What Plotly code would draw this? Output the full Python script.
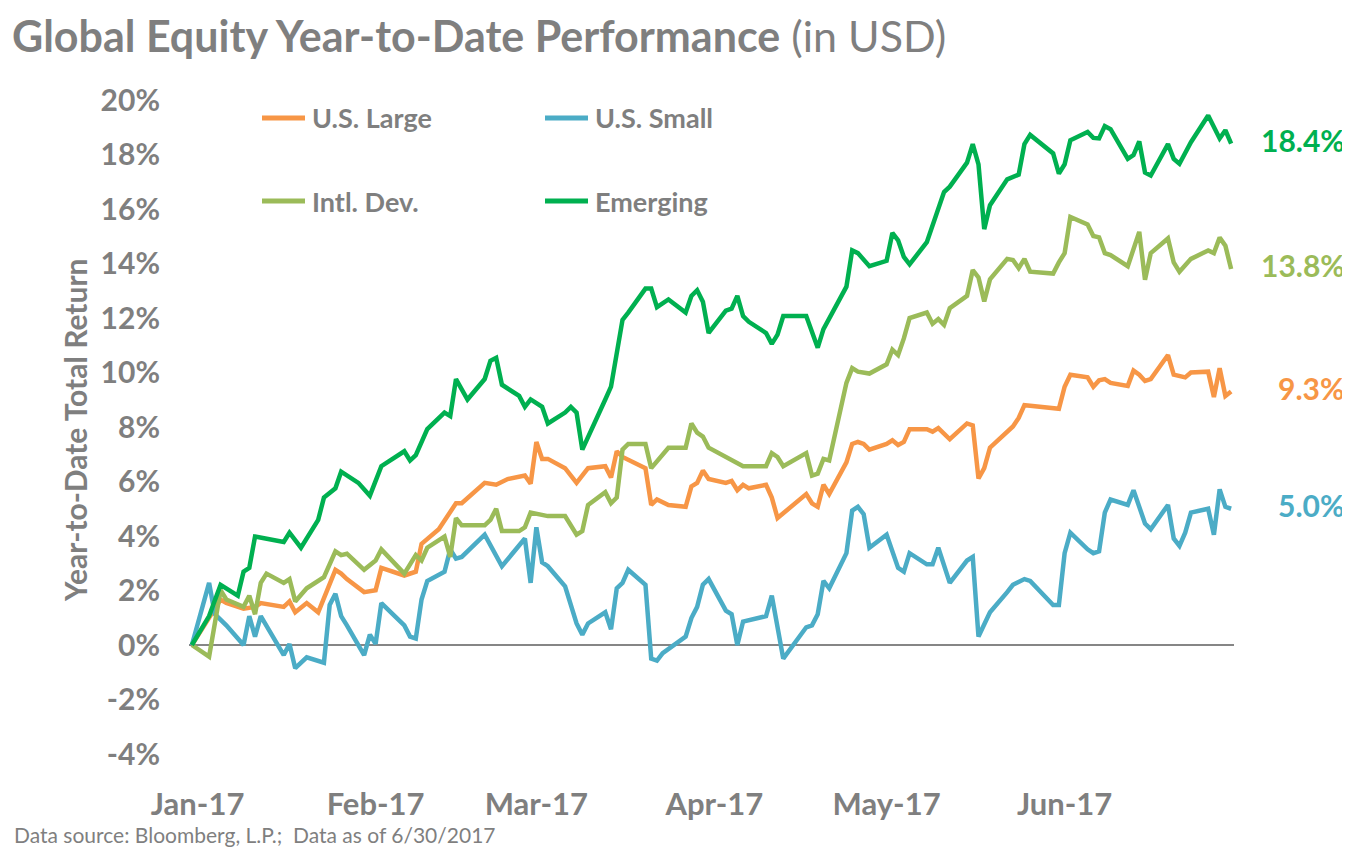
import plotly.graph_objects as go

# ---------------- data (YTD total return, %) ----------------
large_dates = ["2016-12-31","2017-01-05","2017-01-06","2017-01-09","2017-01-11","2017-01-12","2017-01-16","2017-01-17","2017-01-18","2017-01-20","2017-01-22","2017-01-25","2017-01-26","2017-01-27","2017-01-30","2017-02-01","2017-02-02","2017-02-06","2017-02-08","2017-02-09","2017-02-12","2017-02-15","2017-02-16","2017-02-20","2017-02-22","2017-02-24","2017-02-27","2017-02-28","2017-03-01","2017-03-02","2017-03-03","2017-03-06","2017-03-08","2017-03-10","2017-03-13","2017-03-14","2017-03-15","2017-03-16","2017-03-20","2017-03-21","2017-03-22","2017-03-24","2017-03-27","2017-03-28","2017-03-29","2017-03-30","2017-03-31","2017-04-03","2017-04-04","2017-04-05","2017-04-06","2017-04-07","2017-04-10","2017-04-11","2017-04-12","2017-04-17","2017-04-18","2017-04-19","2017-04-20","2017-04-21","2017-04-24","2017-04-25","2017-04-26","2017-04-27","2017-04-28","2017-05-01","2017-05-02","2017-05-03","2017-05-04","2017-05-05","2017-05-08","2017-05-09","2017-05-10","2017-05-12","2017-05-15","2017-05-16","2017-05-17","2017-05-18","2017-05-19","2017-05-23","2017-05-24","2017-05-25","2017-05-26","2017-05-31","2017-06-01","2017-06-02","2017-06-05","2017-06-06","2017-06-07","2017-06-08","2017-06-09","2017-06-12","2017-06-13","2017-06-14","2017-06-15","2017-06-16","2017-06-19","2017-06-20","2017-06-22","2017-06-23","2017-06-26","2017-06-27","2017-06-28","2017-06-29","2017-06-30"]
large_vals = [0,1.67,1.54,1.33,1.40,1.54,1.40,1.60,1.20,1.54,1.20,2.76,2.62,2.42,1.94,2.01,2.83,2.55,2.69,3.71,4.25,5.20,5.20,5.95,5.88,6.09,6.22,5.92,7.45,6.83,6.83,6.49,5.95,6.49,6.56,6.15,7.11,6.90,6.49,5.14,5.34,5.14,5.07,5.82,5.95,6.40,6.09,5.95,6.02,5.68,5.88,5.75,5.88,5.41,4.66,5.54,5.20,5.07,5.88,5.54,6.70,7.38,7.45,7.38,7.17,7.38,7.51,7.34,7.45,7.92,7.92,7.83,7.96,7.55,8.13,8.06,6.11,6.49,7.24,8.02,8.33,8.80,8.78,8.67,9.48,9.92,9.82,9.48,9.71,9.76,9.62,9.51,10.07,9.92,9.69,9.76,10.64,9.92,9.82,10.00,10.03,9.10,10.16,9.14,9.30]

small_dates = ["2016-12-31","2017-01-03","2017-01-04","2017-01-06","2017-01-09","2017-01-10","2017-01-11","2017-01-12","2017-01-16","2017-01-17","2017-01-18","2017-01-20","2017-01-23","2017-01-24","2017-01-25","2017-01-26","2017-01-27","2017-01-30","2017-01-31","2017-02-01","2017-02-02","2017-02-06","2017-02-07","2017-02-08","2017-02-09","2017-02-10","2017-02-13","2017-02-14","2017-02-15","2017-02-16","2017-02-20","2017-02-23","2017-02-27","2017-02-28","2017-03-01","2017-03-02","2017-03-03","2017-03-06","2017-03-08","2017-03-09","2017-03-10","2017-03-13","2017-03-14","2017-03-15","2017-03-16","2017-03-17","2017-03-20","2017-03-21","2017-03-22","2017-03-23","2017-03-27","2017-03-28","2017-03-29","2017-03-30","2017-03-31","2017-04-03","2017-04-04","2017-04-05","2017-04-06","2017-04-07","2017-04-10","2017-04-11","2017-04-13","2017-04-17","2017-04-18","2017-04-19","2017-04-20","2017-04-21","2017-04-24","2017-04-25","2017-04-26","2017-04-27","2017-04-28","2017-05-01","2017-05-03","2017-05-04","2017-05-05","2017-05-08","2017-05-09","2017-05-10","2017-05-12","2017-05-15","2017-05-16","2017-05-17","2017-05-19","2017-05-22","2017-05-23","2017-05-25","2017-05-26","2017-05-30","2017-05-31","2017-06-01","2017-06-02","2017-06-05","2017-06-06","2017-06-07","2017-06-08","2017-06-09","2017-06-12","2017-06-13","2017-06-15","2017-06-16","2017-06-19","2017-06-20","2017-06-21","2017-06-22","2017-06-23","2017-06-26","2017-06-27","2017-06-28","2017-06-29","2017-06-30"]
small_vals = [0,2.28,1.13,0.72,0.00,1.06,0.31,1.06,-0.37,0.04,-0.85,-0.45,-0.65,1.47,1.88,1.06,0.72,-0.37,0.38,0.04,1.54,0.72,0.31,0.24,1.67,2.35,2.69,3.51,3.17,3.23,4.05,2.89,3.91,2.28,4.32,3.03,2.89,2.15,0.79,0.38,0.79,1.20,0.58,2.08,2.28,2.76,2.21,-0.50,-0.57,-0.30,0.31,0.99,1.40,2.21,2.42,1.26,1.13,0.00,0.86,0.90,1.06,1.81,-0.50,0.65,0.72,1.13,2.35,2.08,3.37,4.93,5.07,4.80,3.57,4.05,2.83,2.69,3.37,2.96,2.96,3.57,2.28,3.10,3.23,0.31,1.20,1.94,2.21,2.42,2.35,1.47,1.47,3.37,4.12,3.51,3.37,3.44,4.86,5.34,5.14,5.68,4.46,4.25,5.14,3.91,3.64,4.12,4.86,5.00,4.05,5.71,5.07,5.00]

intl_dates = ["2016-12-31","2017-01-03","2017-01-05","2017-01-06","2017-01-09","2017-01-10","2017-01-11","2017-01-12","2017-01-13","2017-01-16","2017-01-17","2017-01-18","2017-01-20","2017-01-23","2017-01-25","2017-01-26","2017-01-27","2017-01-30","2017-02-01","2017-02-02","2017-02-06","2017-02-08","2017-02-09","2017-02-10","2017-02-13","2017-02-14","2017-02-15","2017-02-16","2017-02-20","2017-02-21","2017-02-22","2017-02-23","2017-02-26","2017-02-27","2017-02-28","2017-03-03","2017-03-06","2017-03-08","2017-03-09","2017-03-10","2017-03-13","2017-03-14","2017-03-15","2017-03-16","2017-03-17","2017-03-20","2017-03-21","2017-03-24","2017-03-27","2017-03-28","2017-03-29","2017-03-30","2017-03-31","2017-04-03","2017-04-04","2017-04-06","2017-04-10","2017-04-11","2017-04-12","2017-04-13","2017-04-17","2017-04-18","2017-04-19","2017-04-20","2017-04-21","2017-04-24","2017-04-25","2017-04-26","2017-04-28","2017-05-01","2017-05-02","2017-05-03","2017-05-04","2017-05-05","2017-05-08","2017-05-09","2017-05-10","2017-05-11","2017-05-12","2017-05-15","2017-05-16","2017-05-17","2017-05-18","2017-05-19","2017-05-22","2017-05-23","2017-05-24","2017-05-25","2017-05-26","2017-05-30","2017-05-31","2017-06-01","2017-06-02","2017-06-05","2017-06-06","2017-06-07","2017-06-08","2017-06-09","2017-06-12","2017-06-14","2017-06-15","2017-06-16","2017-06-19","2017-06-20","2017-06-21","2017-06-23","2017-06-26","2017-06-27","2017-06-28","2017-06-29","2017-06-30"]
intl_vals = [0,-0.43,2.01,1.67,1.40,1.81,1.13,2.28,2.62,2.28,2.42,1.60,2.08,2.49,3.44,3.30,3.35,2.76,3.10,3.51,2.62,3.30,3.10,3.57,3.98,3.23,4.66,4.39,4.39,4.59,5.00,4.18,4.18,4.32,4.86,4.73,4.73,4.05,4.18,5.14,5.61,5.20,5.41,7.17,7.38,7.38,6.49,7.24,7.24,8.13,7.79,7.65,7.24,6.90,6.83,6.56,6.56,7.04,6.90,6.56,7.04,6.22,6.29,6.83,6.77,9.62,10.16,10.03,9.96,10.30,10.84,10.64,11.25,12.00,12.20,11.79,11.96,11.75,12.36,12.81,13.76,13.49,12.61,13.42,14.17,14.13,13.83,14.17,13.70,13.63,14.04,14.38,15.71,15.43,15.01,14.96,14.38,14.31,13.90,15.16,13.40,14.38,14.92,14.04,13.70,14.17,14.48,14.38,14.95,14.65,13.80]

em_dates = ["2016-12-31","2017-01-03","2017-01-05","2017-01-08","2017-01-09","2017-01-10","2017-01-11","2017-01-16","2017-01-17","2017-01-19","2017-01-22","2017-01-23","2017-01-25","2017-01-26","2017-01-29","2017-01-31","2017-02-02","2017-02-06","2017-02-07","2017-02-08","2017-02-10","2017-02-13","2017-02-14","2017-02-15","2017-02-17","2017-02-20","2017-02-21","2017-02-22","2017-02-23","2017-02-26","2017-02-27","2017-02-28","2017-03-02","2017-03-03","2017-03-06","2017-03-07","2017-03-08","2017-03-09","2017-03-13","2017-03-14","2017-03-16","2017-03-17","2017-03-20","2017-03-21","2017-03-22","2017-03-24","2017-03-27","2017-03-28","2017-03-29","2017-03-30","2017-03-31","2017-04-03","2017-04-04","2017-04-05","2017-04-06","2017-04-07","2017-04-10","2017-04-11","2017-04-12","2017-04-13","2017-04-17","2017-04-18","2017-04-19","2017-04-20","2017-04-24","2017-04-25","2017-04-26","2017-04-28","2017-05-01","2017-05-02","2017-05-03","2017-05-04","2017-05-05","2017-05-08","2017-05-11","2017-05-12","2017-05-15","2017-05-16","2017-05-17","2017-05-18","2017-05-19","2017-05-22","2017-05-24","2017-05-25","2017-05-26","2017-05-30","2017-05-31","2017-06-01","2017-06-02","2017-06-05","2017-06-06","2017-06-07","2017-06-08","2017-06-09","2017-06-12","2017-06-13","2017-06-14","2017-06-15","2017-06-16","2017-06-19","2017-06-20","2017-06-21","2017-06-22","2017-06-23","2017-06-26","2017-06-28","2017-06-29","2017-06-30"]
em_vals = [0,1.06,2.21,1.81,2.69,2.83,3.98,3.78,4.12,3.57,4.59,5.41,5.75,6.36,5.95,5.48,6.56,7.11,6.77,6.97,7.92,8.53,8.40,9.76,9.01,9.76,10.43,10.54,9.55,9.14,8.74,9.01,8.74,8.13,8.53,8.74,8.53,7.17,9.01,9.48,11.93,12.20,13.08,13.08,12.40,12.68,12.20,12.81,13.02,12.60,11.45,12.27,12.34,12.81,12.07,11.86,11.45,11.05,11.39,12.07,12.07,11.45,10.91,11.59,13.15,14.48,14.38,13.90,14.10,15.12,14.85,14.24,13.97,14.78,16.62,16.82,17.70,18.38,17.64,15.26,16.14,17.09,17.26,18.38,18.72,18.04,17.30,17.64,18.52,18.83,18.61,18.59,19.04,18.93,17.84,17.98,18.48,17.34,17.23,18.38,17.84,17.66,18.07,18.45,19.43,18.59,18.89,18.40]

series_names = ["U.S. Large", "U.S. Small", "Intl. Dev.", "Emerging"]
series_dates = [large_dates, small_dates, intl_dates, em_dates]
series_vals = [large_vals, small_vals, intl_vals, em_vals]
series_colors = ["#F79646", "#4BACC6", "#9BBB59", "#00B050"]
end_labels = ["9.3%", "5.0%", "13.8%", "18.4%"]

ytick_vals = list(range(-4, 21, 2))
ytick_text = [f"{v}%" for v in ytick_vals]

# ---------------- geometry (page pixels; page has an 8px body margin) ----------------
OFF = 8
W, H = 1350 - OFF, 852 - OFF
L, R, T, B = 189 - OFF, 116, 100 - OFF, 98
PW, PH = W - L - R, H - T - B
GRAY = "#7F7F7F"
FONT = "Lato"


def px(x):
    return (x - OFF - L) / PW


def py(y):
    return (H - B - (y - OFF)) / PH


fig = go.Figure()
for name, d, v, c in zip(series_names, series_dates, series_vals, series_colors):
    fig.add_trace(go.Scatter(x=d, y=v, mode="lines", name=name,
                             line=dict(color=c, width=4.5),
                             showlegend=False, hoverinfo="x+y+name"))

annotations = []
shapes = []

# manual 2x2 legend
legend_pos = [(262, 118), (545, 118), (262, 201), (545, 201)]
for (lx, ly), name, c in zip(legend_pos, series_names, series_colors):
    shapes.append(dict(type="line", xref="paper", yref="paper",
                       x0=px(lx), x1=px(lx + 43), y0=py(ly), y1=py(ly),
                       line=dict(color=c, width=5)))
    annotations.append(dict(xref="paper", yref="paper", x=px(lx + 48), y=py(ly),
                            xanchor="left", yanchor="middle", showarrow=False,
                            text=f"<b>{name}</b>",
                            font=dict(family=FONT, size=27, color=GRAY)))

# end-of-period labels
for v, txt, c in zip(series_vals, end_labels, series_colors):
    annotations.append(dict(xref="paper", yref="y", x=px(1347), y=v[-1],
                            xanchor="right", yanchor="middle", yshift=4,
                            showarrow=False, text=f"<b>{txt}</b>",
                            font=dict(family=FONT, size=30, color=c)))

# y-axis title
annotations.append(dict(xref="paper", yref="paper", x=px(75), y=py(430),
                        xanchor="center", yanchor="middle", textangle=-90,
                        showarrow=False, text="<b>Year-to-Date Total Return</b>",
                        font=dict(family=FONT, size=30, color=GRAY)))

# source note
annotations.append(dict(xref="paper", yref="paper", x=px(12), y=py(834),
                        xanchor="left", yanchor="middle", showarrow=False,
                        text="Data source: Bloomberg, L.P.; \u00a0Data as of 6/30/2017",
                        font=dict(family=FONT, size=21, color=GRAY)))

fig.update_layout(
    width=W, height=H,
    margin=dict(l=L, r=R, t=T, b=B, pad=0),
    paper_bgcolor="white", plot_bgcolor="white",
    title=dict(text="<b>Global Equity Year-to-Date Performance</b> (in USD)",
               x=(12 - OFF) / W, xanchor="left", xref="container",
               y=1 - (37 - OFF) / H, yanchor="middle", yref="container",
               font=dict(family=FONT, size=43, color=GRAY)),
    xaxis=dict(type="date", range=["2016-12-30 12:00", "2017-06-30 12:00"],
               tick0="2017-01-01", dtick="M1", tickformat="%b-%y",
               showgrid=False, zeroline=False, showline=False, ticks="",
               ticklabelstandoff=29,
               tickfont=dict(family=FONT, size=31, color=GRAY, weight="bold")),
    yaxis=dict(range=[-4, 20], tickvals=ytick_vals, ticktext=ytick_text,
               showgrid=False, showline=False, ticks="",
               zeroline=True, zerolinecolor="#868686", zerolinewidth=2,
               ticklabelstandoff=28,
               tickfont=dict(family=FONT, size=30, color=GRAY, weight="bold")),
    annotations=annotations,
    shapes=shapes,
    font=dict(family=FONT, color=GRAY),
)

fig.write_html("out.html")
